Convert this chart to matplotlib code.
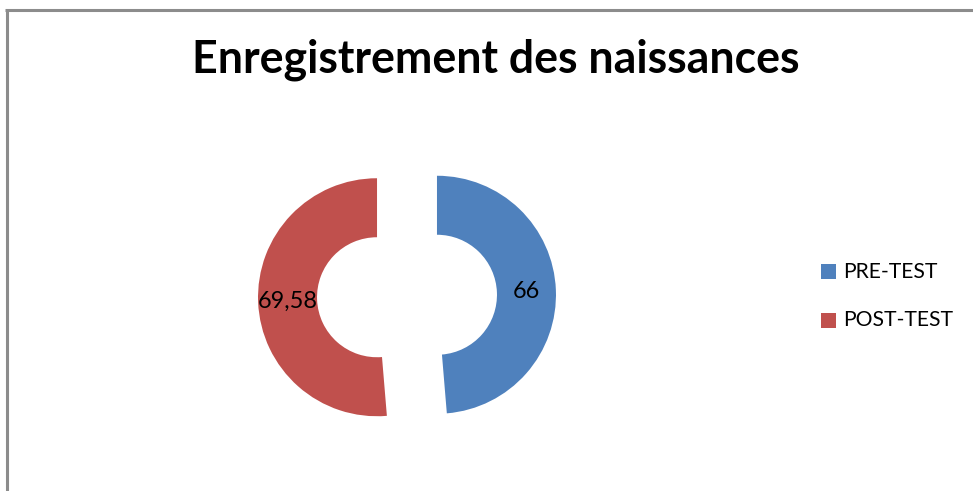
import matplotlib
matplotlib.use("Agg")
import matplotlib.pyplot as plt
from matplotlib.patches import Rectangle
from matplotlib.lines import Line2D

# ---- data ----
title = "Enregistrement des naissances"
categories = ["PRE-TEST", "POST-TEST"]
values = [66, 69.58]
value_labels = ["66", "69,58"]
colors = ["#4F81BD", "#C0504D"]

W, H = 973, 491
fig = plt.figure(figsize=(W / 100, H / 100), dpi=100)
ax = fig.add_axes([0, 0, 1, 1])

FONT = ["Lato", "DejaVu Sans"]

def Y(y):  # image y (from top) -> data y
    return H - y

R = 119
hole = 60
explode = 30  # matplotlib explode offset is in data units
wedges, _, autotexts = ax.pie(
    values, colors=colors, startangle=90, counterclock=False,
    center=(407, Y(296)), radius=R, explode=[explode, explode],
    wedgeprops=dict(width=R - hole, linewidth=0),
    autopct="%1.0f", pctdistance=(R + hole) / 2 / R, frame=True,
)
ax.set_xlim(0, W)
ax.set_ylim(0, H)
ax.set_aspect("equal")
ax.axis("off")
for t, s in zip(autotexts, value_labels):
    t.set_text(s)
    t.set_fontfamily(FONT)
    t.set_fontsize(15)
    t.set_color("black")

# border (gray frame, top and left visible)
ax.add_line(Line2D([6.5, 6.5], [Y(9.5), -5], color="#8c8c8c", lw=2.2, solid_capstyle="butt"))
ax.add_line(Line2D([5.4, W + 5], [Y(9.5), Y(9.5)], color="#8c8c8c", lw=2.2, solid_capstyle="butt"))

# title
tt = ax.text(496, Y(60), title, ha="center", va="center", fontsize=26,
             fontweight="bold", family=FONT, color="black")

# legend
leg_texts = []
for i, (cat, col) in enumerate(zip(categories, colors)):
    yc = 271.5 + i * 49
    ax.add_patch(Rectangle((821, Y(yc) - 7.5), 15, 15, color=col, lw=0))
    leg_texts.append(ax.text(843, Y(yc), cat, ha="left", va="center",
                             fontsize=13, family=FONT, color="black"))

# fit text widths to reference
fig.canvas.draw()
r = fig.canvas.get_renderer()
def fit(t, target):
    w = t.get_window_extent(r).width
    t.set_fontsize(t.get_fontsize() * target / w)
fit(tt, 608)
fit(leg_texts[0], 94)
leg_texts[1].set_fontsize(leg_texts[0].get_fontsize())
fit(autotexts[1], 60)
autotexts[0].set_fontsize(autotexts[1].get_fontsize())

fig.savefig("out.png", dpi=100, facecolor="white")
